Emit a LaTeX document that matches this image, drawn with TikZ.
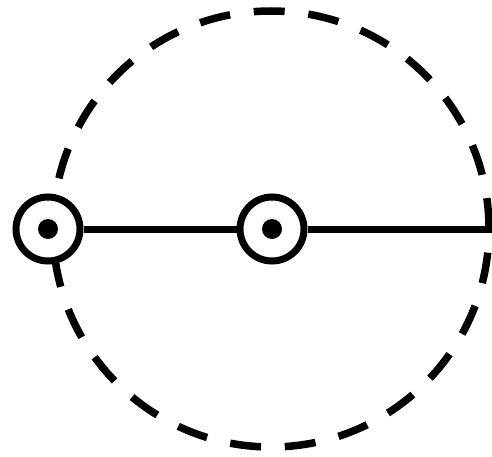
\documentclass[tikz,border=0pt]{standalone}
\begin{document}
\begin{tikzpicture}[x=1pt,y=1pt,
  ring/.style={circle,draw,line width=7pt,fill=white,minimum size=64pt,inner sep=0pt,
    path picture={\fill[black] (path picture bounding box.center) circle (10pt);}},
  wire/.style={line width=7pt},
  orbit/.style={line width=7.5pt,dash pattern=on 31pt off 23.8pt}]
\useasboundingbox (0,0) rectangle (492,456);
\draw[orbit] (271,227) circle (218pt);
\node[ring] (a) at (48,227) {};
\node[ring] (b) at (272,227) {};
\coordinate (e) at (492,227);
\draw[wire] (a) -- (b);
\draw[wire] (b) -- (e);
\end{tikzpicture}
\end{document}
